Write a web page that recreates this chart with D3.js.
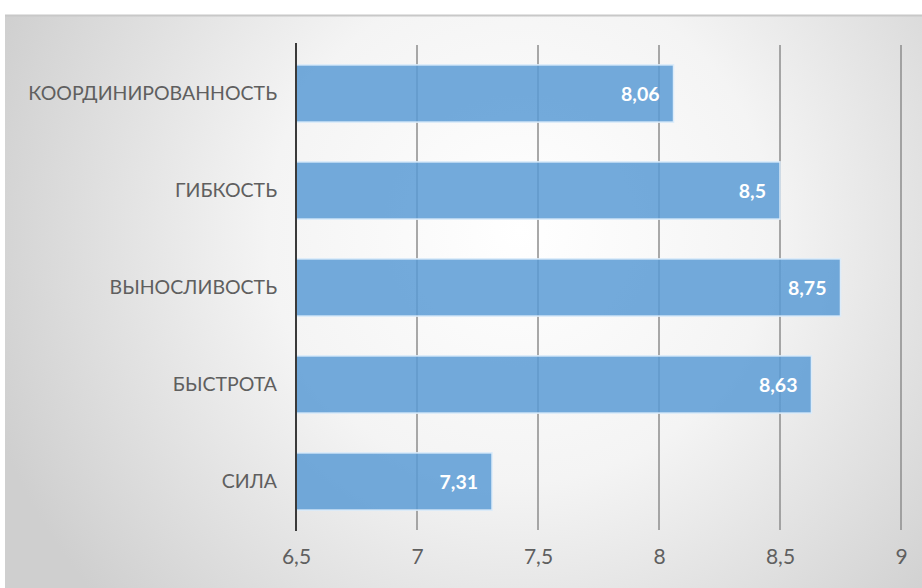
<!DOCTYPE html>
<html><head><meta charset="utf-8">
<script src="https://cdn.jsdelivr.net/npm/d3@7"></script>
<style>body{margin:0;background:#fff;}svg{display:block;}</style>
</head><body>
<script>
const categories = ["КООРДИНИРОВАННОСТЬ","ГИБКОСТЬ","ВЫНОСЛИВОСТЬ","БЫСТРОТА","СИЛА"];
const values = [8.06, 8.5, 8.75, 8.63, 7.31];
const tickValues = [6.5, 7, 7.5, 8, 8.5, 9];
const tickLabels = ["6,5","7","7,5","8","8,5","9"];

const W = 922, H = 588;
const svg = d3.select("body").append("svg").attr("width", W).attr("height", H);
const defs = svg.append("defs");
const rg = defs.append("radialGradient").attr("id","bg").attr("gradientUnits","userSpaceOnUse")
  .attr("cx",520).attr("cy",230).attr("r",560);
rg.append("stop").attr("offset","0%").attr("stop-color","#ffffff");
rg.append("stop").attr("offset","45%").attr("stop-color","#f4f4f4");
rg.append("stop").attr("offset","100%").attr("stop-color","#cfcfcf");

svg.append("rect").attr("x",5).attr("y",15).attr("width",W-5).attr("height",H-15).attr("fill","url(#bg)");
svg.append("line").attr("x1",5).attr("x2",W).attr("y1",15.5).attr("y2",15.5).attr("stroke","#c8c8c8").attr("stroke-width",2);

const x = d3.scaleLinear().domain([6.5, 9]).range([296, 901]);
const y = d3.scaleBand().domain(categories).range([45, 530]).paddingInner(0.41).paddingOuter(0.205);
const font = "Lato, 'Open Sans', sans-serif";

// gridlines
svg.append("g").selectAll("line").data(tickValues.slice(1)).join("line")
  .attr("x1", d => x(d)).attr("x2", d => x(d)).attr("y1", 45).attr("y2", 530)
  .attr("stroke", "#8c8c8c").attr("stroke-width", 1.5);

// bars
svg.append("g").selectAll("rect").data(values).join("rect")
  .attr("x", x(6.5)).attr("y", (d,i) => y(categories[i]))
  .attr("width", d => x(d) - x(6.5)).attr("height", y.bandwidth())
  .attr("fill", "#5b9bd5").attr("fill-opacity", 0.85)
  .attr("stroke", "#dcecfa").attr("stroke-width", 1.5);

// axis line
svg.append("line").attr("x1", x(6.5)).attr("x2", x(6.5)).attr("y1", 43).attr("y2", 531)
  .attr("stroke", "#3a3a3a").attr("stroke-width", 2);

// value labels
svg.append("g").selectAll("text").data(values).join("text")
  .attr("x", d => x(d) - 14).attr("y", (d,i) => y(categories[i]) + y.bandwidth()/2)
  .attr("dy", "0.36em").attr("text-anchor", "end")
  .attr("fill", "#ffffff").attr("font-family", font).attr("font-weight", "bold").attr("font-size", 19.5)
  .text(d => String(d).replace(".", ","));

// category labels
const yAxis = d3.axisLeft(y).tickSize(0).tickPadding(19);
const ga = svg.append("g").attr("transform", `translate(${x(6.5)},0)`).call(yAxis);
ga.select(".domain").remove();
ga.selectAll("text").attr("fill", "#5f5f5f").attr("font-family", font).attr("font-size", 19.5);

// x tick labels
const xAxis = d3.axisBottom(x).tickValues(tickValues).tickSize(0).tickPadding(19)
  .tickFormat((d,i) => tickLabels[i]);
const gx = svg.append("g").attr("transform", "translate(0,530)").call(xAxis);
gx.select(".domain").remove();
gx.selectAll("text").attr("fill", "#5f5f5f").attr("font-family", font).attr("font-size", 21);
</script>
</body></html>
